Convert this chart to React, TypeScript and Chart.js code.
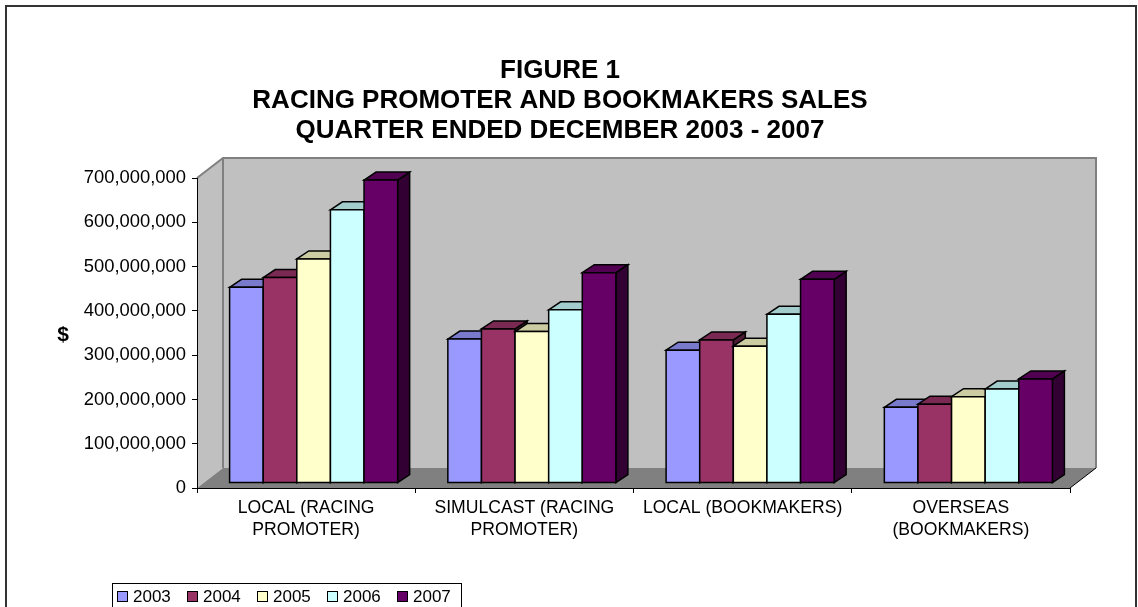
import React, { useEffect, useRef } from 'react';
import { Chart, registerables } from 'chart.js';

Chart.register(...registerables);

// ---------- data ----------
const categories: string[][] = [
  ['LOCAL (RACING', 'PROMOTER)'],
  ['SIMULCAST (RACING', 'PROMOTER)'],
  ['LOCAL (BOOKMAKERS)'],
  ['OVERSEAS', '(BOOKMAKERS)'],
];
const seriesLabels = ['2003', '2004', '2005', '2006', '2007'];
const values2003 = [442e6, 325e6, 300e6, 171e6];
const values2004 = [464e6, 348e6, 323e6, 178e6];
const values2005 = [506e6, 342e6, 309e6, 195e6];
const values2006 = [617e6, 391e6, 381e6, 212e6];
const values2007 = [684e6, 475e6, 460e6, 235e6];
const seriesValues = [values2003, values2004, values2005, values2006, values2007];
const seriesColors = ['#9999FF', '#993366', '#FFFFCC', '#CCFFFF', '#660066'];
const yMax = 700e6;
const yStep = 100e6;
const titleLines = [
  'FIGURE 1',
  'RACING PROMOTER AND BOOKMAKERS SALES',
  'QUARTER ENDED DECEMBER 2003 - 2007',
];
const yAxisTitle = '$';

const FONT = '"Liberation Sans", Arial, Helvetica, sans-serif';

// ---------- 3D geometry (styling) ----------
const DX = 26; // box depth x
const DY = 20; // box depth y
const BX = 7.5; // bar front offset into depth
const BY = 5;
const TX = 12; // bar depth
const TY = 8;

function shade(hex: string, f: number): string {
  const n = parseInt(hex.slice(1), 16);
  const r = Math.round(((n >> 16) & 255) * f);
  const g = Math.round(((n >> 8) & 255) * f);
  const b = Math.round((n & 255) * f);
  return `rgb(${r},${g},${b})`;
}

function poly(ctx: CanvasRenderingContext2D, pts: number[][]) {
  ctx.beginPath();
  ctx.moveTo(pts[0][0], pts[0][1]);
  for (let i = 1; i < pts.length; i++) ctx.lineTo(pts[i][0], pts[i][1]);
  ctx.closePath();
}

const threeDPlugin = {
  id: 'threeD',
  beforeDraw(chart: any) {
    const { ctx, chartArea: a } = chart;
    ctx.save();
    // outer frame
    ctx.strokeStyle = '#333';
    ctx.lineWidth = 2;
    ctx.strokeRect(6, 6, 1130, 700);
    // left wall
    ctx.fillStyle = '#C0C0C0';
    poly(ctx, [
      [a.left, a.top],
      [a.left + DX, a.top - DY],
      [a.left + DX, a.bottom - DY],
      [a.left, a.bottom],
    ]);
    ctx.fill();
    // back wall
    ctx.fillRect(a.left + DX, a.top - DY, a.right - a.left, a.bottom - a.top);
    // floor
    ctx.fillStyle = '#808080';
    poly(ctx, [
      [a.left, a.bottom],
      [a.left + DX, a.bottom - DY],
      [a.right + DX, a.bottom - DY],
      [a.right, a.bottom],
    ]);
    ctx.fill();
    // wall edges
    ctx.strokeStyle = '#808080';
    ctx.lineWidth = 2;
    ctx.beginPath();
    ctx.moveTo(a.left, a.top);
    ctx.lineTo(a.left + DX, a.top - DY);
    ctx.lineTo(a.right + DX, a.top - DY);
    ctx.lineTo(a.right + DX, a.bottom - DY);
    ctx.moveTo(a.left + DX, a.top - DY);
    ctx.lineTo(a.left + DX, a.bottom - DY);
    ctx.stroke();
    ctx.strokeStyle = '#000';
    ctx.lineWidth = 1;
    ctx.beginPath();
    ctx.moveTo(a.right, a.bottom);
    ctx.lineTo(a.right + DX, a.bottom - DY);
    ctx.stroke();
    ctx.restore();
  },
  afterDatasetsDraw(chart: any) {
    const ctx: CanvasRenderingContext2D = chart.ctx;
    const n = chart.data.labels.length;
    const nd = chart.data.datasets.length;
    ctx.save();
    ctx.lineWidth = 1.5;
    ctx.strokeStyle = '#000';
    ctx.lineJoin = 'miter';
    for (let j = 0; j < n; j++) {
      for (let k = 0; k < nd; k++) {
        const el = chart.getDatasetMeta(k).data[j];
        if (!el) continue;
        const { x, y, base, width } = el.getProps(['x', 'y', 'base', 'width'], true);
        const l = x - width / 2 + BX;
        const r = x + width / 2 + BX;
        const t = y - BY;
        const b = base - BY;
        const c = seriesColors[k];
        // side
        poly(ctx, [
          [r, t],
          [r + TX, t - TY],
          [r + TX, b - TY],
          [r, b],
        ]);
        ctx.fillStyle = shade(c, 0.5);
        ctx.fill();
        ctx.stroke();
        // top
        poly(ctx, [
          [l, t],
          [l + TX, t - TY],
          [r + TX, t - TY],
          [r, t],
        ]);
        ctx.fillStyle = shade(c, 0.8);
        ctx.fill();
        ctx.stroke();
        // front
        ctx.beginPath();
        ctx.rect(l, t, r - l, b - t);
        ctx.fillStyle = c;
        ctx.fill();
        ctx.stroke();
      }
    }
    ctx.restore();
  },
  afterDraw(chart: any) {
    const ctx: CanvasRenderingContext2D = chart.ctx;
    const a = chart.chartArea;
    ctx.save();
    // title
    ctx.fillStyle = '#000';
    ctx.textAlign = 'center';
    ctx.textBaseline = 'middle';
    ctx.font = `bold 26px ${FONT}`;
    titleLines.forEach((line, i) => ctx.fillText(line, 560, 71 + i * 30));
    // y title
    ctx.font = `bold 21px ${FONT}`;
    ctx.fillText(yAxisTitle, 63, (a.top + a.bottom) / 2 + 2);
    // legend
    const lx = 112, ly = 583, lw = 349, lh = 28;
    ctx.strokeStyle = '#000';
    ctx.lineWidth = 1;
    ctx.strokeRect(lx + 0.5, ly + 0.5, lw, lh);
    ctx.font = `17px ${FONT}`;
    ctx.textAlign = 'left';
    chart.data.datasets.forEach((ds: any, i: number) => {
      const ix = lx + 5 + i * 70;
      ctx.fillStyle = seriesColors[i];
      ctx.fillRect(ix + 0.5, ly + 8.5, 10, 10);
      ctx.strokeRect(ix + 0.5, ly + 8.5, 10, 10);
      ctx.fillStyle = '#000';
      ctx.fillText(ds.label, ix + 16, ly + 14);
    });
    ctx.restore();
  },
};

export default function App() {
  const ref = useRef<HTMLCanvasElement | null>(null);
  useEffect(() => {
    if (!ref.current) return;
    const chart = new Chart(ref.current, {
      type: 'bar',
      data: {
        labels: categories as any,
        datasets: seriesLabels.map((label, i) => ({
          label,
          data: seriesValues[i],
          backgroundColor: 'rgba(0,0,0,0)',
          borderWidth: 0,
          categoryPercentage: 0.77,
          barPercentage: 1.0,
        })),
      },
      options: {
        responsive: false,
        animation: false,
        events: [],
        layout: { padding: { top: 178, right: 68, bottom: 59, left: 0 } },
        plugins: {
          legend: { display: false },
          title: { display: false },
          tooltip: { enabled: false },
        },
        scales: {
          x: {
            offset: true,
            grid: {
              offset: true,
              drawOnChartArea: false,
              drawTicks: true,
              tickLength: 5,
              color: '#000',
            },
            border: { display: true, color: '#000', width: 1 },
            ticks: {
              color: '#000',
              font: { family: FONT, size: 17.6, lineHeight: 1.27 },
              padding: 4,
              maxRotation: 0,
              autoSkip: false,
            },
            afterFit: (s: any) => {
              s.height = 60;
            },
          },
          y: {
            min: 0,
            max: yMax,
            grid: {
              drawOnChartArea: false,
              drawTicks: true,
              tickLength: 5,
              color: '#000',
            },
            border: { display: true, color: '#000', width: 1 },
            ticks: {
              stepSize: yStep,
              color: '#000',
              font: { family: FONT, size: 18.4 },
              padding: 6,
              callback: (v: any) => Number(v).toLocaleString('en-US'),
            },
            afterFit: (s: any) => {
              s.width = 197;
            },
          },
        },
      },
      plugins: [threeDPlugin],
    });
    return () => chart.destroy();
  }, []);
  return (
    <div style={{ position: 'fixed', left: 0, top: 0, width: 1138, height: 607, overflow: 'hidden', background: '#fff' }}>
      <canvas ref={ref} width={1138} height={607} style={{ display: 'block' }} />
    </div>
  );
}
